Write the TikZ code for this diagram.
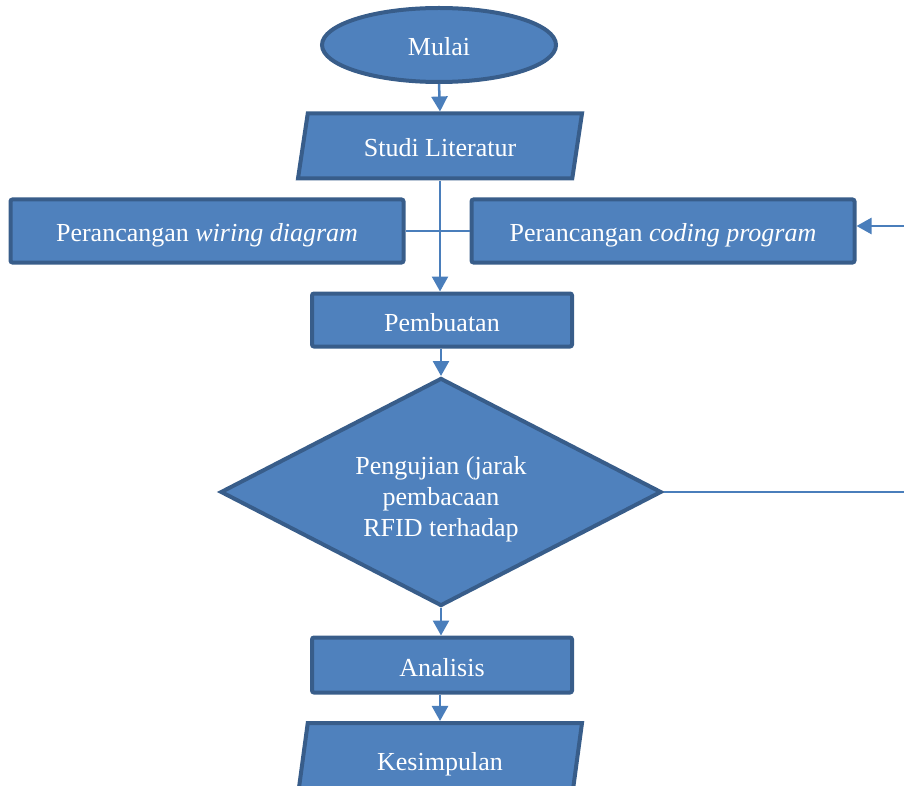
\documentclass[tikz,border=0pt]{standalone}
\usepackage{fontspec}
\setmainfont{Liberation Serif}
\usetikzlibrary{arrows.meta,shapes.geometric,positioning}
\definecolor{boxfill}{HTML}{4F81BD}
\definecolor{boxline}{HTML}{385D8A}
\definecolor{linkline}{HTML}{4A7EBB}
\tikzset{
    every picture/.style={line width=0.75pt},
    shapebox/.style={fill=boxfill, draw=boxline, line width=4pt, text=white,
        font=\fontsize{26}{31}\selectfont, inner sep=0pt, align=center},
    onelinebox/.style={shapebox, text height=28pt, text depth=6pt},
    procbox/.style={onelinebox, rectangle, rounded corners=2pt},
    iobox/.style={onelinebox, trapezium, trapezium left angle=74, trapezium right angle=106,
        trapezium stretches body=true, minimum width=284pt, minimum height=65pt},
    link/.style={draw=linkline, line width=2.5pt},
    linkarrow/.style={link, -{Triangle[width=16pt,length=15pt]}}
}

\begin{document}
\begin{tikzpicture}[x=1pt, y=-1pt]
    \useasboundingbox (0,0) rectangle (904,786);

    % mulai
    \node[onelinebox, ellipse, minimum width=234pt, minimum height=74pt] (mulai) at (439,45) {Mulai};
    \node[iobox] (studi) at (440,146) {Studi Literatur};

    % perancangan
    \node[procbox, minimum width=393pt, minimum height=63pt] (wiring) at (207,231) {Perancangan \textit{wiring diagram}};
    \node[procbox, minimum width=383pt, minimum height=63pt] (coding) at (663,231) {Perancangan \textit{coding program}};

    % pembuatan dan pengujian
    \node[procbox, minimum width=260pt, minimum height=53pt] (buat) at (442,320) {Pembuatan};
    \node[shapebox, diamond, aspect=1.93, text height=95pt, text depth=6pt, minimum width=441pt, minimum height=228pt] (uji) at (441,492)
        {Pengujian (jarak\\pembacaan\\RFID terhadap};

    % analisis
    \node[procbox, minimum width=260pt, minimum height=55pt] (analisis) at (442,665) {Analisis};
    \node[iobox, minimum height=72pt] (simpul) at (440,759) {Kesimpulan};

    % panah
    \draw[linkarrow] (mulai.south) -- (studi.north);
    \draw[linkarrow] (studi.south) -- (studi.south |- buat.north);
    \draw[link] (wiring.east) -- (coding.west);
    \coordinate (masuk) at (904,226);
    \draw[linkarrow] (masuk) -- (coding.east |- masuk);
    \draw[linkarrow] (buat.south -| uji.north) -- (uji.north);
    \coordinate (keluar) at (904,492);
    \draw[link] (uji.east) -- (keluar);
    \draw[linkarrow] (uji.south) -- (uji.south |- analisis.north);
    \draw[linkarrow] (analisis.south -| simpul.north) -- (simpul.north);
\end{tikzpicture}
\end{document}
